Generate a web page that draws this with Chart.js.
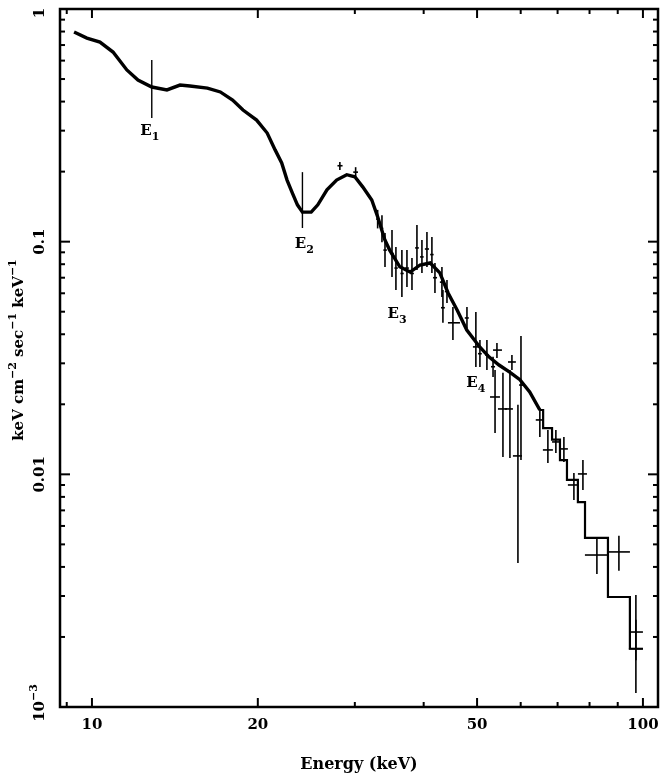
<!DOCTYPE html>
<html>
<head>
<meta charset="utf-8">
<script src="https://cdn.jsdelivr.net/npm/chart.js@4.4.1/dist/chart.umd.min.js"></script>
<style>
  body { margin: 0; background: #fff; }
  canvas { display: block; }
</style>
</head>
<body>
<canvas id="spec" width="664" height="777"></canvas>
<script>
// model spectrum, smooth part (keV, keV cm^-2 sec^-1 keV^-1)
const modelE = [9.28, 9.79, 10.34, 10.92, 11.57, 12.12, 12.84, 13.68, 14.45, 15.06, 16.2, 17.1, 18.0, 18.8,
  19.9, 20.8, 21.5, 22.1, 22.6, 23.1, 23.6, 24.1, 25.0, 25.7, 26.7, 27.8, 29.0, 30.0, 31.0, 32.2, 33.0,
  34.0, 34.7, 36.2, 37.8, 39.4, 41.1, 42.8, 44.3, 46.0, 47.9, 50.6, 52.6, 54.8, 57.3, 59.8, 62.3, 65.0];
const modelF = [0.796, 0.75, 0.721, 0.653, 0.547, 0.495, 0.462, 0.449, 0.471, 0.467, 0.457, 0.44, 0.406, 0.368,
  0.333, 0.293, 0.248, 0.218, 0.184, 0.162, 0.144, 0.134, 0.134, 0.144, 0.167, 0.184, 0.194, 0.19, 0.172, 0.151, 0.128,
  0.102, 0.092, 0.078, 0.074, 0.0794, 0.081, 0.0734, 0.0602, 0.0509, 0.0417, 0.0352, 0.0319, 0.0295, 0.0275, 0.0255, 0.0226, 0.0189];

// binned model at high energies (left bin edge, value)
const binE = [65.0, 65.9, 68.4, 70.7, 72.8, 76.2, 78.5, 86.4, 94.7, 100];
const binF = [0.0189, 0.0158, 0.0141, 0.0115, 0.00946, 0.0076, 0.00533, 0.00297, 0.00178, 0.00178];

// data points with error bars
const ptE   = [34.03, 35.04, 35.62, 36.52, 37.3, 38.09, 38.89, 39.71, 40.55, 41.4, 41.93, 43.17, 44.09, 43.35, 47.93, 50.6, 52.1, 53.45, 28.18, 30.1, 33.0, 33.6,
  45.2, 49.75, 54.33, 57.84, 53.9, 55.71, 57.36, 59.31, 60.07, 65.0, 67.22, 69.5, 71.87, 74.94, 77.82, 82.5, 90.45, 97.1, 97.1];
const ptF   = [0.092, 0.089, 0.077, 0.073, 0.077, 0.073, 0.094, 0.086, 0.093, 0.088, 0.070, 0.067, 0.061, 0.052, 0.047, 0.033, 0.0326, 0.029, 0.212, 0.199, 0.125, 0.114,
  0.0448, 0.0353, 0.0342, 0.0304, 0.0215, 0.0191, 0.0191, 0.012, 0.0242, 0.01713, 0.01273, 0.01378, 0.01286, 0.009, 0.01004, 0.0045, 0.00464, 0.0021, 0.00178];
const ptElo = [33.8, 34.8, 35.4, 36.3, 37.0, 37.8, 38.6, 39.4, 40.2, 41.1, 41.6, 42.8, 43.7, 43.0, 47.5, 50.2, 51.7, 53.0, 27.9, 29.8, 32.8, 33.4,
  44.27, 49.14, 53.45, 56.9, 52.78, 54.56, 56.18, 58.08, 59.6, 63.9, 65.83, 68.4, 70.68, 73.08, 76.21, 78.47, 86.4, 94.71, 94.3];
const ptEhi = [34.3, 35.3, 35.9, 36.8, 37.6, 38.4, 39.2, 40.0, 40.9, 41.7, 42.3, 43.5, 44.4, 43.7, 48.3, 51.0, 52.5, 53.9, 28.5, 30.4, 33.2, 33.8,
  46.55, 50.6, 55.48, 58.8, 55.02, 56.65, 58.08, 60.32, 60.6, 66.1, 68.64, 70.68, 73.08, 76.21, 79.14, 86.4, 94.71, 100, 100];
const ptFlo = [0.0778, 0.0705, 0.062, 0.0578, 0.0639, 0.062, 0.0756, 0.0734, 0.0778, 0.0734, 0.0602, 0.0578, 0.0545, 0.0448, 0.0426, 0.0289, 0.0281, 0.0262, 0.203, 0.19, 0.114, 0.0995,
  0.0378, 0.0289, 0.0316, 0.0281, 0.01507, 0.01188, 0.01176, 0.00416, 0.01153, 0.01448, 0.0112, 0.01236, 0.0113, 0.00776, 0.00857, 0.00373, 0.00385, 0.00159, 0.00115];
const ptFhi = [0.109, 0.1122, 0.0949, 0.0921, 0.0921, 0.0851, 0.118, 0.1017, 0.11, 0.1047, 0.081, 0.0778, 0.0684, 0.062, 0.0524, 0.0378, 0.0378, 0.032, 0.22, 0.209, 0.137, 0.13,
  0.0524, 0.0499, 0.0367, 0.0326, 0.0281, 0.0273, 0.0281, 0.0199, 0.0393, 0.0189, 0.0155, 0.0155, 0.01448, 0.01014, 0.01153, 0.00533, 0.00544, 0.00303, 0.00237];

// feature markers and labels
const markE  = [12.84, 24.1];
const markLo = [0.34, 0.1145];
const markHi = [0.603, 0.199];
const featNames = ['1', '2', '3', '4'];
const featE = [12.74, 24.3, 35.8, 49.75];
const featF = [0.299, 0.0977, 0.0489, 0.0247];

// axis ticks
const xMajor = [10, 20, 50, 100];
const xMinor = [9, 30, 40, 60, 70, 80, 90];
const yMajor = [0.001, 0.01, 0.1, 1];
const yTickText = [[['10', 0], ['\u22123', 1]], [['0.01', 0]], [['0.1', 0]], [['1', 0]]];

const FONT = '"DejaVu Serif", serif';

// draw text made of pieces: [text, 0 normal | 1 superscript | -1 subscript]
function richText(ctx, parts, size, cx, cy) {
    const small = Math.round(size * 0.72);
    let w = 0;
    parts.forEach(p => {
        ctx.font = 'bold ' + (p[1] ? small : size) + 'px ' + FONT;
        w += ctx.measureText(p[0]).width;
    });
    let x = cx - w / 2;
    ctx.textAlign = 'left';
    ctx.textBaseline = 'middle';
    parts.forEach(p => {
        ctx.font = 'bold ' + (p[1] ? small : size) + 'px ' + FONT;
        ctx.fillText(p[0], x, cy - p[1] * size * 0.42);
        x += ctx.measureText(p[0]).width;
    });
}

const framePlugin = {
    id: 'frame',
    beforeDraw(chart) {
        const ctx = chart.ctx;
        ctx.save();
        ctx.fillStyle = '#fff';
        ctx.fillRect(0, 0, chart.width, chart.height);
        ctx.restore();
    },
    afterDatasetsDraw(chart) {
        const { ctx, chartArea: a, scales: { x, y } } = chart;
        ctx.save();
        ctx.strokeStyle = '#000';
        ctx.fillStyle = '#000';
        const seg = (x1, y1, x2, y2) => { ctx.beginPath(); ctx.moveTo(x1, y1); ctx.lineTo(x2, y2); ctx.stroke(); };

        // error bars
        ctx.lineWidth = 1.6;
        ptE.forEach((e, i) => {
            const px = x.getPixelForValue(e), py = y.getPixelForValue(ptF[i]);
            seg(x.getPixelForValue(ptElo[i]), py, x.getPixelForValue(ptEhi[i]), py);
            seg(px, y.getPixelForValue(ptFlo[i]), px, y.getPixelForValue(ptFhi[i]));
        });

        // feature markers
        ctx.lineWidth = 1.4;
        markE.forEach((e, i) => {
            const px = x.getPixelForValue(e);
            seg(px, y.getPixelForValue(markLo[i]), px, y.getPixelForValue(markHi[i]));
        });
        featNames.forEach((n, i) => {
            richText(ctx, [['E', 0], [n, -1]], 15, x.getPixelForValue(featE[i]), y.getPixelForValue(featF[i]));
        });

        // frame
        ctx.lineWidth = 2.5;
        ctx.strokeRect(a.left, a.top, a.right - a.left, a.bottom - a.top);

        // x ticks
        ctx.lineWidth = 2;
        xMajor.forEach(v => {
            const px = x.getPixelForValue(v);
            seg(px, a.bottom, px, a.bottom - 9);
            seg(px, a.top, px, a.top + 9);
        });
        xMinor.forEach(v => {
            const px = x.getPixelForValue(v);
            seg(px, a.bottom, px, a.bottom - 5);
            seg(px, a.top, px, a.top + 5);
        });
        // y ticks
        yMajor.forEach((d, k) => {
            const py = y.getPixelForValue(d);
            seg(a.left, py, a.left + 10, py);
            seg(a.right, py, a.right - 10, py);
            if (k < yMajor.length - 1) {
                for (let m = 2; m <= 9; m++) {
                    const q = y.getPixelForValue(d * m);
                    seg(a.left, q, a.left + 5, q);
                    seg(a.right, q, a.right - 5, q);
                }
            }
        });

        // x tick labels
        xMajor.forEach(v => {
            richText(ctx, [[String(v), 0]], 15, x.getPixelForValue(v), a.bottom + 18);
        });
        // y tick labels (rotated)
        yMajor.forEach((v, k) => {
            const py = Math.min(Math.max(y.getPixelForValue(v), a.top + 4), a.bottom - 4);
            ctx.save();
            ctx.translate(40, py);
            ctx.rotate(-Math.PI / 2);
            richText(ctx, yTickText[k], 15, 0, 0);
            ctx.restore();
        });

        // axis titles
        richText(ctx, [['Energy (keV)', 0]], 16, (a.left + a.right) / 2, a.bottom + 58);
        ctx.save();
        ctx.translate(19, 350);
        ctx.rotate(-Math.PI / 2);
        richText(ctx, [['keV cm', 0], ['\u22122', 1], [' sec', 0], ['\u22121', 1], [' keV', 0], ['\u22121', 1]], 15, 0, 0);
        ctx.restore();

        ctx.restore();
    }
};

const modelPts = modelE.map((e, i) => ({ x: e, y: modelF[i] }));
const binPts = binE.map((e, i) => ({ x: e, y: binF[i] }));

new Chart(document.getElementById('spec'), {
    type: 'line',
    data: {
        datasets: [
            { label: 'model', data: modelPts, borderColor: '#000', borderWidth: 3.4, pointRadius: 0, tension: 0 },
            { label: 'bins', data: binPts, borderColor: '#000', borderWidth: 2.2, pointRadius: 0, stepped: 'before' }
        ]
    },
    options: {
        responsive: false,
        animation: false,
        devicePixelRatio: 1,
        layout: { padding: { left: 60, right: 6, top: 9, bottom: 70 } },
        plugins: { legend: { display: false }, tooltip: { enabled: false } },
        scales: {
            x: { type: 'logarithmic', min: 8.75, max: 106.5, display: false },
            y: { type: 'logarithmic', min: 0.001, max: 1, display: false }
        }
    },
    plugins: [framePlugin]
});
</script>
</body>
</html>
